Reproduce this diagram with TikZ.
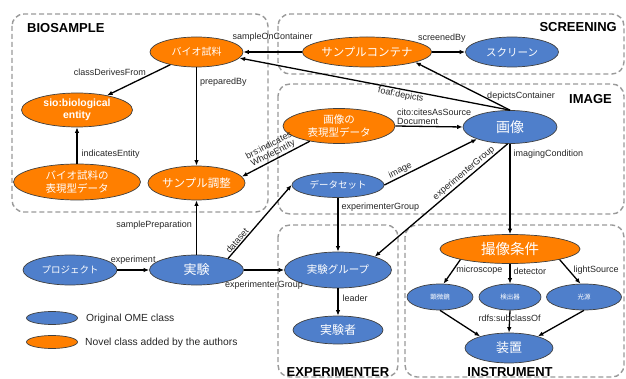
\documentclass[tikz,border=0pt]{standalone}
\usepackage{fontspec}
\setmainfont{Liberation Sans}
\newfontfamily\jp{Noto Sans CJK JP}
\usetikzlibrary{shapes.geometric,arrows.meta}
\definecolor{omeblue}{HTML}{4F7FCB}
\definecolor{novel}{HTML}{FF7F00}
\definecolor{boxgray}{HTML}{9A9A9A}
\newcommand{\jpf}[2]{\jp\fontsize{#1}{#2}\selectfont}
\newcommand{\labf}{\fontsize{9}{9}\selectfont}
\begin{document}
\begin{tikzpicture}[x=1pt,y=1pt,
  cls/.style={ellipse, draw=black!75, line width=0.7pt, text=white, inner sep=0pt, align=center},
  blu/.style={cls, fill=omeblue},
  org/.style={cls, fill=novel},
  lbl/.style={font=\labf, text=black!85, inner sep=1pt},
  arr/.style={-{Latex[length=5.5pt,width=4.5pt]}, line width=1.3pt, black},
  grp/.style={draw=boxgray, line width=1.4pt, dash pattern=on 5pt off 3pt, rounded corners=12pt},
  ttl/.style={font=\bfseries\fontsize{13}{13}\selectfont, inner sep=0pt}]
\useasboundingbox (0,0) rectangle (626,-379);
% group boxes
\draw[grp] (12,-14) rectangle (268,-212);
\draw[grp] (278,-14) rectangle (624,-74);
\draw[grp] (278,-84) rectangle (624,-214);
\draw[grp] (278,-225) rectangle (398,-377);
\draw[grp] (405,-225) rectangle (624,-377);
% titles
\node[ttl, anchor=west] (tbio) at (27,-28) {BIOSAMPLE};
\node[ttl, anchor=east] (tscr) at (617,-27) {SCREENING};
\node[ttl, anchor=east] (timg) at (612,-99) {IMAGE};
\node[ttl] (texp) at (338,-372) {EXPERIMENTER};
\node[ttl] (tins) at (510,-372) {INSTRUMENT};
% nodes
\node[org, minimum width=93pt, minimum height=30pt, font=\jpf{10}{12}] (bio) at (196.5,-52) {バイオ試料};
\node[org, minimum width=111pt, minimum height=34pt, font=\bfseries\fontsize{10.4}{12}\selectfont] (sio) at (77,-110) {sio:biological\\entity};
\node[org, minimum width=127pt, minimum height=36pt, font=\jpf{10.5}{12.5}] (bpd) at (77,-182) {バイオ試料の\\表現型データ};
\node[org, minimum width=95pt, minimum height=34pt, font=\jpf{11.5}{13}] (sp) at (196.5,-183) {サンプル調整};
\node[org, minimum width=127pt, minimum height=30pt, font=\jpf{11.5}{13}] (sc) at (367,-52) {サンプルコンテナ};
\node[blu, minimum width=93pt, minimum height=30pt, font=\jpf{10.5}{12}] (scr) at (512,-52) {スクリーン};
\node[org, minimum width=112pt, minimum height=35pt, font=\jpf{10.5}{12.5}] (ipd) at (339,-126) {画像の\\表現型データ};
\node[blu, minimum width=94pt, minimum height=33pt, font=\jpf{14}{16}] (img) at (510,-127) {画像};
\node[blu, minimum width=92pt, minimum height=25pt, font=\jpf{9.5}{11}] (ds) at (338,-185) {データセット};
\node[blu, minimum width=94pt, minimum height=30pt, font=\jpf{9.5}{11}] (prj) at (70,-270) {プロジェクト};
\node[blu, minimum width=94pt, minimum height=30pt, font=\jpf{13}{15}] (exp) at (196.5,-270) {実験};
\node[blu, minimum width=107pt, minimum height=36pt, font=\jpf{10.5}{12}] (eg) at (338,-270) {実験グループ};
\node[blu, minimum width=90pt, minimum height=28pt, font=\jpf{12}{14}] (ex) at (338,-330) {実験者};
\node[org, minimum width=140pt, minimum height=29pt, font=\jpf{14.5}{16}] (cond) at (510,-249) {撮像条件};
\node[blu, minimum width=66pt, minimum height=26pt, font=\jpf{6.5}{8}] (mic) at (440,-297) {顕微鏡};
\node[blu, minimum width=62pt, minimum height=26pt, font=\jpf{6.5}{8}] (det) at (510,-297) {検出器};
\node[blu, minimum width=75pt, minimum height=26pt, font=\jpf{6.5}{8}] (light) at (584,-297) {光源};
\node[blu, minimum width=88pt, minimum height=30pt, font=\jpf{13}{15}] (dev) at (509,-348) {装置};
% legend
\node[blu, minimum width=51pt, minimum height=13pt] (lgb) at (52,-318) {};
\node[org, minimum width=51pt, minimum height=13pt] (lgo) at (52,-342) {};
\node[anchor=west, inner sep=0pt, font=\fontsize{10.3}{12}\selectfont, text=black!85] (lgbt) at (86,-319) {Original OME class};
\node[anchor=west, inner sep=0pt, font=\fontsize{10.3}{12}\selectfont, text=black!85] (lgot) at (85,-343) {Novel class added by the authors};
% edges
\draw[arr] (sc.west) -- (bio.east) node[lbl, midway, above=9pt] {sampleOnContainer};
\draw[arr] (sc.east) -- (scr.west) node[lbl, pos=0.3, above=8pt] {screenedBy};
\draw[arr] (img.north) -- (bio.-8) node[lbl, pos=0.4, sloped, below] {foaf:depicts};
\draw[arr] (img.north) -- (sc.-12) node[lbl, pos=0.3, anchor=west, xshift=4pt] {depictsContainer};
\draw[arr] (ipd.east) -- (img.west) node[lbl, pos=0, anchor=south west, align=left] {cito:citesAsSource\\Document};
\draw[arr] (ipd) -- (sp.8) node[lbl, midway, sloped, above, align=center] {brs:indicates\\WholeEntity};
\draw[arr] (bio) -- (sio) node[lbl, pos=0.25, anchor=east, xshift=-7pt] {classDerivesFrom};
\draw[arr] (bio.south) -- (sp.north) node[lbl, pos=0.15, anchor=west, xshift=2pt] {preparedBy};
\draw[arr] (bpd.north) -- (sio.south) node[lbl, pos=0.25, anchor=west, xshift=3pt] {indicatesEntity};
\draw[arr] (exp.north) -- (sp.south) node[lbl, pos=0.55, anchor=east, xshift=-3pt] {samplePreparation};
\draw[arr] (prj.east) -- (exp.west) node[lbl, midway, above=4pt] {experiment};
\draw[arr] (exp.20) -- (ds.west) node[lbl, pos=0.2, sloped, above] {dataset};
\draw[arr] (exp.east) -- (eg.west) node[lbl, midway, below=9pt] {experimenterGroup};
\draw[arr] (ds.south) -- (eg.north) node[lbl, pos=0.18, anchor=west, xshift=2pt] {experimenterGroup};
\draw[arr] (ds.east) -- (img.200) node[lbl, pos=0.2, sloped, above] {image};
\draw[arr] (img.262) -- (eg.20) node[lbl, pos=0.3, sloped, above] {experimenterGroup};
\draw[arr] (img.south) -- (cond.north) node[lbl, pos=0.11, anchor=west, xshift=2pt] {imagingCondition};
\draw[arr] (eg.south) -- (ex.north) node[lbl, pos=0.35, anchor=west, xshift=3pt] {leader};
\draw[arr] (cond.192) -- (mic.75) node[lbl, pos=0.45, anchor=west, xshift=2pt] {microscope};
\draw[arr] (cond.south) -- (det.north) node[lbl, pos=0.4, anchor=west, xshift=2pt] {detector};
\draw[arr] (cond.-12) -- (light.105) node[lbl, pos=0.45, anchor=west, xshift=3pt] {lightSource};
\draw[arr] (mic.south) -- (dev.158);
\draw[arr] (det.south) -- (dev.north) node[lbl, pos=0.35] {rdfs:subclassOf};
\draw[arr] (light.south) -- (dev.22);
\end{tikzpicture}
\end{document}
